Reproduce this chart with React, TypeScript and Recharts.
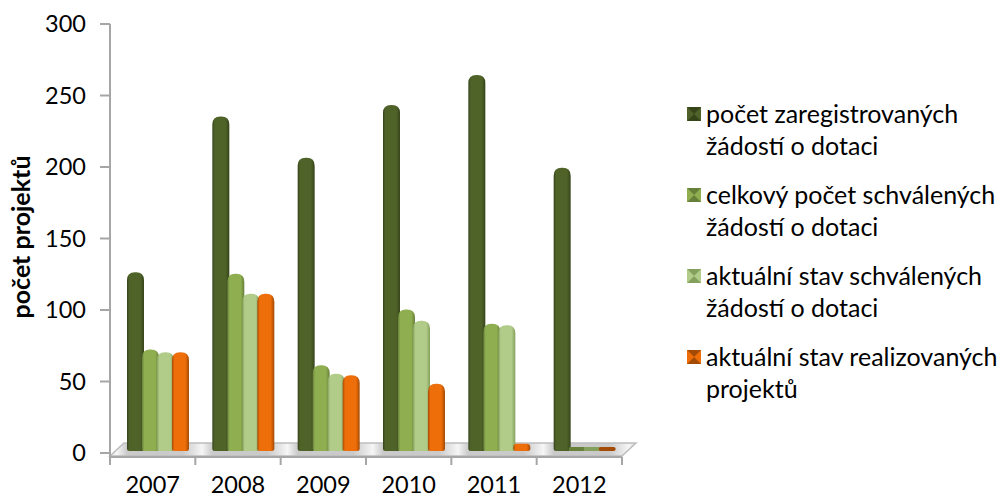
import { BarChart, Bar, XAxis, YAxis, Legend } from 'recharts';

const years = ['2007', '2008', '2009', '2010', '2011', '2012'];
const registered = [125, 234, 205, 242, 263, 198];
const approvedTotal = [71, 124, 60, 99, 89, 1];
const approvedCurrent = [69, 110, 54, 91, 88, 1];
const realized = [69, 110, 53, 47, 5, 1];
const yTicks = [0, 50, 100, 150, 200, 250, 300];

const seriesNames = [
  'počet zaregistrovaných žádostí o dotaci',
  'celkový počet schválených žádostí o dotaci',
  'aktuální stav schválených žádostí o dotaci',
  'aktuální stav realizovaných projektů',
];
const seriesKeys = ['registered', 'approvedTotal', 'approvedCurrent', 'realized'];
const seriesColors = ['#4f6228', '#8fae50', '#b1cc88', '#ee6e0a'];
const seriesEdges = ['#36441a', '#66803a', '#83a05c', '#a34a04'];

const chartData = years.map((year, i) => ({
  year,
  registered: registered[i],
  approvedTotal: approvedTotal[i],
  approvedCurrent: approvedCurrent[i],
  realized: realized[i],
}));

const FONT = 'Lato, sans-serif';
const GREY = '#a6a6a6';
const BAND = 512 / years.length;

// rounded cylinder-like bar, nudged right and up so it stands on the floor
const CylinderBar = ({ x, y, width, height, fill, edge }: any) => {
  const left = x + 5;
  const bottom = y + height - 2;
  const h = Math.max(height, 4);
  const top = bottom - h;
  const r = Math.min(8, h / 2);
  const rb = Math.min(2.5, h / 2);
  const d = `M${left},${bottom - rb} L${left},${top + r} Q${left},${top} ${left + r},${top} L${left + width - r},${top} Q${left + width},${top} ${left + width},${top + r} L${left + width},${bottom - rb} Q${left + width},${bottom} ${left + width - rb},${bottom} L${left + rb},${bottom} Q${left},${bottom} ${left},${bottom - rb} Z`;
  return <path d={d} fill={height < 3 ? edge : fill} />;
};

// tick marks sit between the categories, the label in the middle
const YearTick = ({ x, y, payload, index }: any) => {
  const isLast = index === years.length - 1;
  return (
    <g>
      <line x1={x - BAND / 2} x2={x - BAND / 2} y1={y} y2={y + 8} stroke={GREY} strokeWidth={2} />
      {isLast && <line x1={x + BAND / 2} x2={x + BAND / 2} y1={y} y2={y + 8} stroke={GREY} strokeWidth={2} />}
      <text x={x} y={y + 36} textAnchor="middle" fill="#000" fontSize={23.5} fontFamily={FONT}>
        {payload.value}
      </text>
    </g>
  );
};

const Marker = ({ index }: { index: number }) => {
  const c = seriesColors[index];
  const e = seriesEdges[index];
  return (
    <svg width={14} height={14} style={{ position: 'absolute', left: 0, top: 10 }}>
      <rect width={14} height={14} fill={c} />
      <polygon points="0,0 14,0 7,7" fill={e} />
      <polygon points="0,14 14,14 7,7" fill={e} />
      <polygon points="0,0 0,14 7,7" fill={c} opacity={0.75} />
    </svg>
  );
};

const renderLegend = () => (
  <div style={{ fontFamily: FONT, fontSize: 25, lineHeight: '32px', color: '#000' }}>
    {seriesNames.map((name, i) => (
      <div key={name} style={{ position: 'relative', paddingLeft: 19, width: 312, marginBottom: 17 }}>
        <Marker index={i} />
        {name}
      </div>
    ))}
  </div>
);

export default function App() {
  return (
    <div style={{ position: 'absolute', left: 0, top: 0, width: 1001, height: 498, background: '#fff' }}>
      {/* floor of the 3D plot, sits behind the chart */}
      <svg width={1001} height={498} style={{ position: 'absolute', left: 0, top: 0 }}>
        <defs>
          <linearGradient id="floor" gradientUnits="userSpaceOnUse" x1={110} x2={195.3} y1={0} y2={0} spreadMethod="repeat">
            <stop offset="0" stopColor="#e6e6e6" />
            <stop offset="0.08" stopColor="#f6f6f6" />
            <stop offset="0.2" stopColor="#cacaca" />
            <stop offset="0.85" stopColor="#cacaca" />
            <stop offset="1" stopColor="#e6e6e6" />
          </linearGradient>
        </defs>
        <polygon points="110,456 124,443 636,443 622,456" fill="url(#floor)" stroke="#bdbdbd" strokeWidth={1.5} />
      </svg>
      <div style={{ position: 'absolute', left: 0, top: 0 }}>
        <BarChart
          width={1001}
          height={498}
          data={chartData}
          margin={{ top: 24, right: 379, bottom: 0, left: 0 }}
          barSize={17}
          barGap={-2}
          barCategoryGap={0}
        >
          <defs>
            {seriesColors.map((color, i) => (
              <linearGradient key={color} id={`bar${i}`} x1="0" x2="1" y1="0" y2="0">
                <stop offset="0" stopColor={seriesEdges[i]} />
                <stop offset="0.14" stopColor={color} />
                <stop offset="0.78" stopColor={color} />
                <stop offset="1" stopColor={seriesEdges[i]} />
              </linearGradient>
            ))}
          </defs>
          <XAxis
            dataKey="year"
            height={41}
            tickSize={0}
            tickMargin={0}
            interval={0}
            axisLine={{ stroke: GREY, strokeWidth: 2 }}
            tickLine={false}
            tick={YearTick}
          />
          <YAxis
            width={110}
            domain={[-2.8, 300]}
            ticks={yTicks}
            tickSize={10}
            tickMargin={14}
            axisLine={{ stroke: GREY, strokeWidth: 2 }}
            tickLine={{ stroke: GREY, strokeWidth: 2 }}
            tick={{ fill: '#000', fontSize: 23.5, fontFamily: FONT }}
            label={{
              value: 'počet projektů',
              angle: -90,
              position: 'insideLeft',
              dx: 16,
              dy: 78,
              style: { fill: '#000', fontSize: 25, fontWeight: 700, fontFamily: FONT },
            }}
          />
          <Legend
            layout="vertical"
            align="center"
            verticalAlign="middle"
            content={renderLegend}
            wrapperStyle={{ left: 687, top: 97, width: 314 }}
          />
          {seriesKeys.map((key, i) => (
            <Bar
              key={key}
              dataKey={key}
              name={seriesNames[i]}
              fill={`url(#bar${i})`}
              shape={(props: any) => <CylinderBar {...props} edge={seriesEdges[i]} />}
              isAnimationActive={false}
            />
          ))}
        </BarChart>
      </div>
    </div>
  );
}
